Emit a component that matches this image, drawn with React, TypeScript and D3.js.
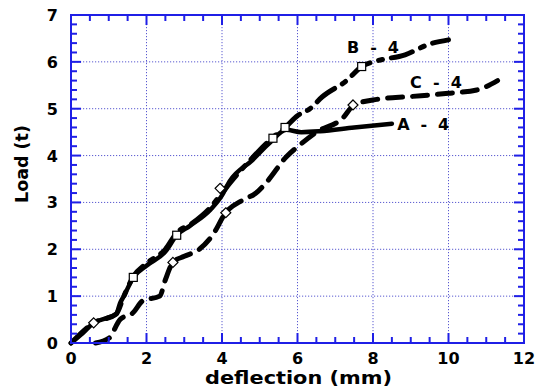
import React from "react";
import * as d3 from "d3";

// Load–deflection curves for specimens A-4, B-4 and C-4
const aDeflection = [0, 0.3, 0.6, 0.9, 1.2, 1.3, 1.4, 1.65, 2.0, 2.5, 2.8, 3.15, 3.7, 4.0, 4.2, 4.8, 5.3, 5.7, 6.1, 6.6, 7.5, 8.5];
const aLoad = [0, 0.2, 0.43, 0.52, 0.62, 0.85, 1.0, 1.4, 1.65, 1.95, 2.3, 2.5, 2.85, 3.15, 3.45, 3.9, 4.3, 4.55, 4.5, 4.52, 4.6, 4.68];

const bDeflection = [0, 0.6, 1.2, 1.4, 1.65, 2.0, 2.5, 2.8, 3.2, 3.7, 4.0, 4.3, 4.8, 5.3, 5.7, 6.0, 6.33, 6.65, 7.3, 7.7, 8.1, 8.85, 9.5, 10.0];
const bLoad = [0, 0.43, 0.62, 1.0, 1.42, 1.7, 2.0, 2.35, 2.55, 2.9, 3.2, 3.5, 3.95, 4.35, 4.62, 4.85, 5.0, 5.25, 5.6, 5.9, 6.02, 6.15, 6.38, 6.47];

const cDeflection = [0.65, 1.0, 1.3, 1.65, 1.9, 2.35, 2.5, 2.7, 3.0, 3.4, 3.75, 4.1, 4.55, 4.9, 5.2, 5.7, 6.05, 6.5, 7.2, 7.5, 8.1, 9.0, 10.0, 10.75, 11.3];
const cLoad = [0, 0.1, 0.5, 0.65, 0.9, 1.0, 1.35, 1.72, 1.85, 2.0, 2.3, 2.78, 3.05, 3.2, 3.45, 3.97, 4.22, 4.5, 4.8, 5.08, 5.2, 5.26, 5.33, 5.4, 5.6];

// Open markers placed along the curves
const squareX = [1.65, 2.8, 5.35, 5.67, 7.7];
const squareY = [1.4, 2.3, 4.37, 4.6, 5.9];
const diamondX = [0.6, 3.95, 2.7, 4.1, 7.47];
const diamondY = [0.43, 3.3, 1.72, 2.78, 5.08];

const xTicks = [0, 2, 4, 6, 8, 10, 12];
const yTicks = [0, 1, 2, 3, 4, 5, 6, 7];
const xLabel = "deflection (mm)";
const yLabel = "Load (t)";

// Curve names, anchored at their left end / baseline in data units
const seriesNames = ["A - 4", "B - 4", "C - 4"];
const seriesNameX = [8.64, 7.31, 8.98];
const seriesNameY = [4.55, 6.19, 5.44];

const W = 542;
const H = 390;
const left = 71;
const right = 524;
const top = 15;
const bottom = 343;
const axisColor = "#1f1fe6";
const gridColor = "#5a5ad0";
const font = "'DejaVu Sans', Arial, sans-serif";

export default function App() {
  const x = d3.scaleLinear().domain([0, 12]).range([left, right]);
  const y = d3.scaleLinear().domain([0, 7]).range([bottom, top]);

  const mk = (xs: number[], ys: number[]) =>
    d3
      .line<number>()
      .x((_, i) => x(xs[i]))
      .y((_, i) => y(ys[i]))
      .curve(d3.curveMonotoneX)(xs);

  const xMinor = d3.range(0, 12.001, 0.5);
  const yMinor = d3.range(0, 7.001, 0.2);

  return (
    <svg width={W} height={H} style={{ position: "absolute", left: 0, top: 0, background: "#fff" }}>
      {/* grid */}
      {xTicks.slice(1, -1).map((t) => (
        <line key={"gx" + t} x1={x(t)} x2={x(t)} y1={top} y2={bottom} stroke={gridColor} strokeWidth={1} strokeDasharray="1.2,1.8" />
      ))}
      {yTicks.slice(1, -1).map((t) => (
        <line key={"gy" + t} x1={left} x2={right} y1={y(t)} y2={y(t)} stroke={gridColor} strokeWidth={1} strokeDasharray="1.2,1.8" />
      ))}

      {/* curves */}
      <path d={mk(cDeflection, cLoad) || ""} fill="none" stroke="#000" strokeWidth={5} strokeDasharray="15,10" strokeLinecap="round" />
      <path d={mk(bDeflection, bLoad) || ""} fill="none" stroke="#000" strokeWidth={5} strokeDasharray="22,9,4,9" strokeLinecap="round" />
      <path d={mk(aDeflection, aLoad) || ""} fill="none" stroke="#000" strokeWidth={4.5} strokeLinecap="round" />

      {/* markers */}
      {squareX.map((v, i) => (
        <rect key={"s" + i} x={x(v) - 4} y={y(squareY[i]) - 4} width={8} height={8} fill="#fff" stroke="#000" strokeWidth={1.2} />
      ))}
      {diamondX.map((v, i) => (
        <path
          key={"d" + i}
          d={`M${x(v)},${y(diamondY[i]) - 5}L${x(v) + 5},${y(diamondY[i])}L${x(v)},${y(diamondY[i]) + 5}L${x(v) - 5},${y(diamondY[i])}Z`}
          fill="#fff"
          stroke="#000"
          strokeWidth={1.2}
        />
      ))}

      {/* frame */}
      <rect x={left} y={top} width={right - left} height={bottom - top} fill="none" stroke={axisColor} strokeWidth={2} />

      {/* ticks on all four sides, pointing inward */}
      {xMinor.map((t, i) => {
        const major = Math.abs(t % 2) < 1e-6;
        const len = major ? 10 : 6;
        return (
          <g key={"xt" + i}>
            <line x1={x(t)} x2={x(t)} y1={bottom} y2={bottom - len} stroke={axisColor} strokeWidth={2} />
            <line x1={x(t)} x2={x(t)} y1={top} y2={top + len} stroke={axisColor} strokeWidth={2} />
          </g>
        );
      })}
      {yMinor.map((t, i) => {
        const major = Math.abs(t - Math.round(t)) < 1e-6;
        const len = major ? 10 : 6;
        return (
          <g key={"yt" + i}>
            <line x1={left} x2={left + len} y1={y(t)} y2={y(t)} stroke={axisColor} strokeWidth={2} />
            <line x1={right} x2={right - len} y1={y(t)} y2={y(t)} stroke={axisColor} strokeWidth={2} />
          </g>
        );
      })}

      {/* tick labels */}
      {xTicks.map((t) => (
        <text key={"xl" + t} x={x(t)} y={364} textAnchor="middle" fontFamily={font} fontWeight="bold" fontSize={16} fill="#000">
          {t}
        </text>
      ))}
      {yTicks.map((t) => (
        <text key={"yl" + t} x={58} y={y(t) + 6} textAnchor="end" fontFamily={font} fontWeight="bold" fontSize={16} fill="#000">
          {t}
        </text>
      ))}

      {/* axis titles */}
      <text x={205} y={384} fontFamily={font} fontWeight="bold" fontSize={17} textLength={187} lengthAdjust="spacingAndGlyphs" fill="#000">
        {xLabel}
      </text>
      <text transform={`translate(28,203) rotate(-90)`} fontFamily={font} fontWeight="bold" fontSize={17} textLength={78} lengthAdjust="spacingAndGlyphs" fill="#000">
        {yLabel}
      </text>

      {/* series names */}
      {seriesNames.map((s, i) => (
        <text key={s} x={x(seriesNameX[i])} y={y(seriesNameY[i])} fontFamily={font} fontWeight="bold" fontSize={16} textLength={52} lengthAdjust="spacing" fill="#000">
          {s}
        </text>
      ))}
    </svg>
  );
}
